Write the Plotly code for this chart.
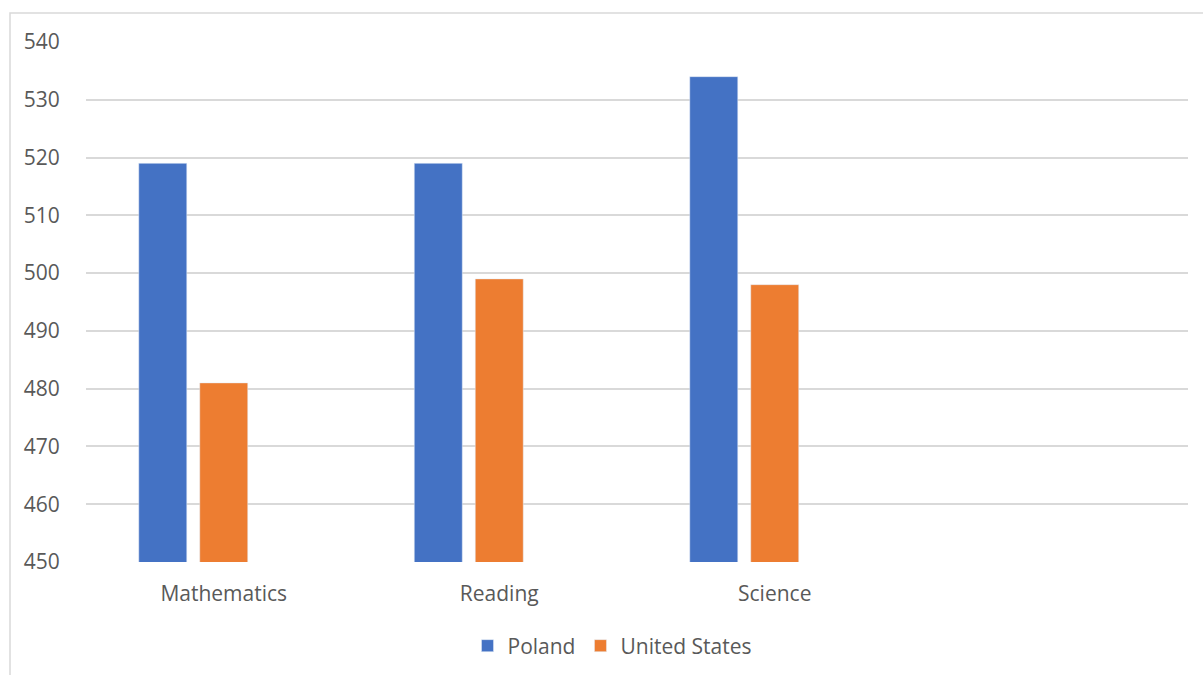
import plotly.graph_objects as go

# PISA scores by subject
subjects = ["Mathematics", "Reading", "Science"]
poland = [519, 519, 534]
united_states = [481, 499, 498]
y_ticks = [450, 460, 470, 480, 490, 500, 510, 520, 530, 540]

fig = go.Figure()
fig.add_trace(go.Bar(name="Poland", x=subjects, y=poland, marker_color="#4472C4"))
fig.add_trace(go.Bar(name="United States", x=subjects, y=united_states, marker_color="#ED7D31"))
# empty third series slot keeps the bar group layout
fig.add_trace(go.Bar(name="", x=subjects, y=[None] * len(subjects),
                     marker_color="#A5A5A5", showlegend=False, hoverinfo="skip"))

W, H = 1203, 675
L, R, T, B = 86, 15, 42, 113
plot_w = W - L - R
plot_h = H - T - B

font_family = "Open Sans, Lato, DejaVu Sans, sans-serif"
fs = 21

fig.update_layout(
    width=W, height=H,
    margin=dict(l=L, r=R, t=T, b=B, pad=0, autoexpand=False),
    paper_bgcolor="white", plot_bgcolor="white",
    barmode="group", bargap=0.336, bargroupgap=0.213,
    font=dict(family=font_family, size=fs, color="#595959"),
    showlegend=True,
    legend=dict(orientation="h", x=(612 - L) / plot_w, xanchor="center",
                y=-(646 - (T + plot_h)) / plot_h, yanchor="middle",
                font=dict(size=fs, color="#595959"), itemwidth=30,
                traceorder="normal"),
    xaxis=dict(type="category", categoryorder="array", categoryarray=subjects,
               range=[-0.5, 3.5], showgrid=False, zeroline=False, showline=False,
               ticks="outside", ticklen=13, tickcolor="rgba(0,0,0,0)",
               tickfont=dict(size=fs, color="#595959")),
    yaxis=dict(range=[450, 540], tickvals=y_ticks, showgrid=True,
               gridcolor="#D9D9D9", gridwidth=1.5, zeroline=False, showline=False,
               ticks="outside", ticklen=21, tickcolor="rgba(0,0,0,0)",
               tickfont=dict(size=fs, color="#595959")),
    shapes=[
        # chart area border
        dict(type="rect", xref="paper", yref="paper",
             x0=(10 - L) / plot_w, x1=(W + 20 - L) / plot_w,
             y0=-(H + 20 - T - plot_h) / plot_h, y1=(T + plot_h - 13) / plot_h,
             line=dict(color="#D9D9D9", width=1.5), fillcolor="rgba(0,0,0,0)",
             layer="below"),
    ],
)

fig.write_html("out.html")
